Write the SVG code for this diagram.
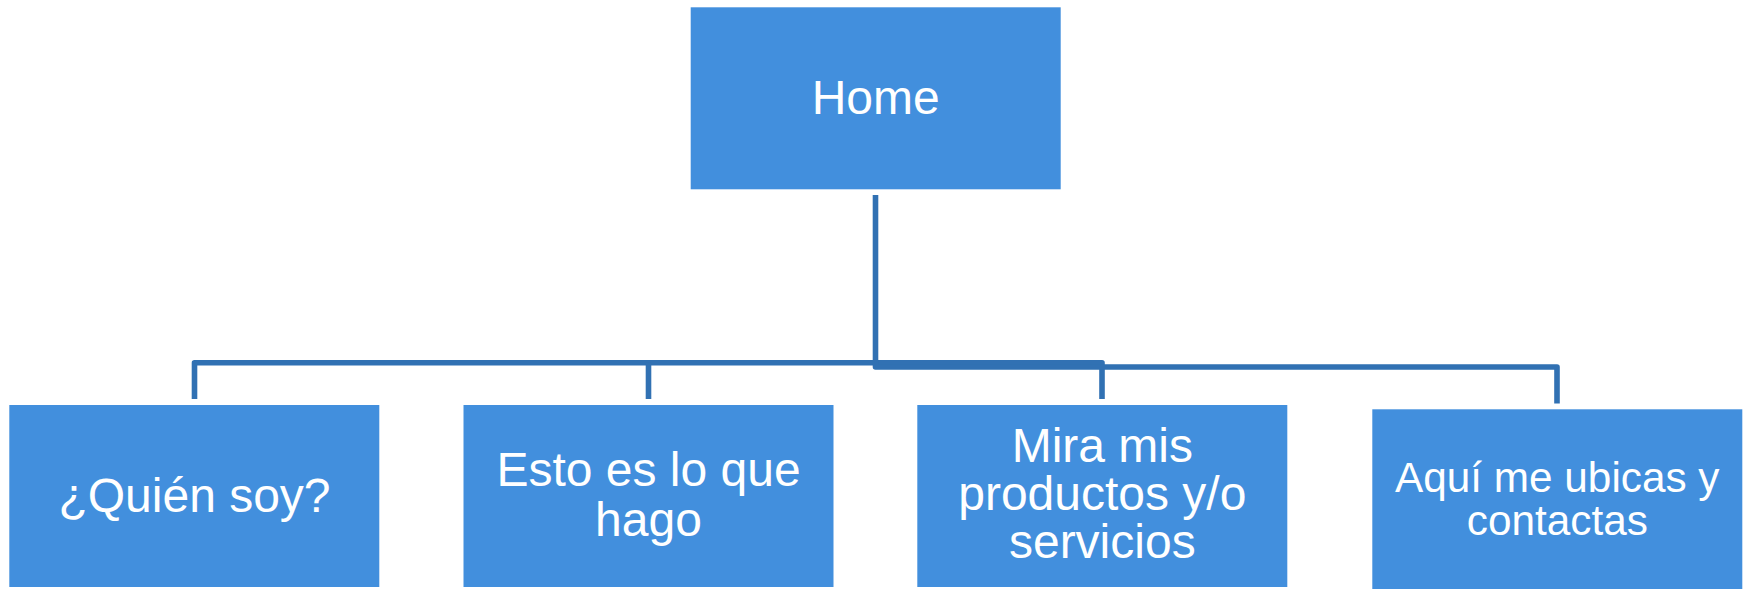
<svg xmlns="http://www.w3.org/2000/svg" width="1743" height="589" viewBox="0 0 1743 589">
<style>
.box{fill:#428fdd;}
.lbl{font-family:"Liberation Sans",Arial,sans-serif;fill:#ffffff;text-anchor:middle;}
.con{fill:none;stroke:#3171b3;stroke-width:5.6;stroke-linejoin:round;stroke-linecap:butt;}
</style>
<rect width="1743" height="589" fill="#ffffff"/>
<g id="connectors">
<path class="con" d="M194.5,399 V362.7 H1102 V399"/>
<path class="con" d="M648.5,362.7 V399"/>
<path class="con" d="M875.5,195 V367 H1557 V403.5"/>
</g>
<g id="home">
<rect class="box" x="690.7" y="7.3" width="370" height="182"/>
<text class="lbl" x="875.7" y="114" font-size="48">Home</text>
</g>
<g id="quien">
<rect class="box" x="9.3" y="405" width="370" height="182"/>
<text class="lbl" x="194.5" y="511.7" font-size="48">¿Quién soy?</text>
</g>
<g id="esto">
<rect class="box" x="463.5" y="405" width="370" height="182"/>
<text class="lbl" x="648.5" y="486" font-size="48">Esto es lo que</text>
<text class="lbl" x="648.5" y="536" font-size="48">hago</text>
</g>
<g id="mira">
<rect class="box" x="917.3" y="405" width="370" height="182"/>
<text class="lbl" x="1102.3" y="461.7" font-size="48">Mira mis</text>
<text class="lbl" x="1102.3" y="510" font-size="48">productos y/o</text>
<text class="lbl" x="1102.3" y="558.3" font-size="48">servicios</text>
</g>
<g id="aqui">
<rect class="box" x="1372.3" y="409.3" width="370" height="182"/>
<text class="lbl" x="1557.3" y="491.7" font-size="42.3">Aquí me ubicas y</text>
<text class="lbl" x="1557.3" y="535" font-size="42.3">contactas</text>
</g>
</svg>
